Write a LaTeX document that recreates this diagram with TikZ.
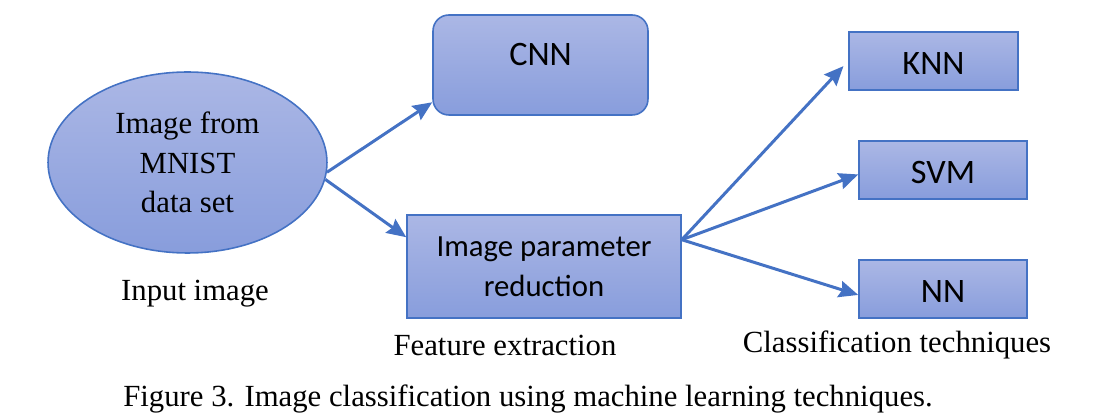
\documentclass[tikz,border=0pt]{standalone}
\usepackage{fontspec}
\setmainfont{Liberation Serif}
\newfontfamily\boxfont{Carlito}
\usepackage{tikz}
\usetikzlibrary{arrows.meta,positioning,shapes.geometric}

\definecolor{boxtop}{RGB}{171,183,229}
\definecolor{boxbot}{RGB}{136,157,220}
\definecolor{boxline}{RGB}{68,114,196}

\begin{document}
\begin{tikzpicture}[x=0.02cm, y=-0.02cm,
    every node/.style={font=\fontsize{17.5}{21}\selectfont},
    shadedbox/.style={draw=boxline, line width=0.9pt, top color=boxtop,
        bottom color=boxbot, inner sep=0pt},
    sansbox/.style={shadedbox, rectangle, align=center,
        font=\boxfont\fontsize{17.5}{23}\selectfont},
    bigsans/.style={font=\boxfont\fontsize{19.5}{23}\selectfont},
    flow/.style={draw=boxline, line width=1.7pt,
        -{Stealth[length=11pt, width=9.5pt, inset=1.5pt]}}]
  \useasboundingbox (0,0) rectangle (1105,418);
  % Input
  \node[shadedbox, ellipse, minimum width=5.58cm, minimum height=3.62cm,
        align=center, font=\fontsize{17.5}{22.5}\selectfont] (img)
    at (187.5,162.5) {Image from\\MNIST\\data set};
  \node (lblin) at (195,294) {Input image};
  % Feature extraction
  \node[sansbox, bigsans, rounded corners=9pt, minimum width=4.3cm,
        minimum height=2.0cm, text depth=0.44cm] (cnn)
    at (540.5,65) {CNN};
  \node[sansbox, minimum width=5.48cm, minimum height=2.06cm] (param)
    at (544,266.5) {Image parameter\\reduction};
  \node (lblfe) at (505,345) {Feature extraction};
  % Classifiers
  \node[sansbox, bigsans, minimum width=3.38cm, minimum height=1.16cm,
        text height=0.55cm] (knn) at (933.5,61) {KNN};
  \node[sansbox, bigsans, minimum width=3.36cm, minimum height=1.16cm,
        text height=0.55cm] (svm) at (943,170) {SVM};
  \node[sansbox, bigsans, minimum width=3.36cm, minimum height=1.16cm,
        text height=0.55cm] (nn) at (943,289) {NN};
  \node (lblct) at (897,345) {Classification techniques};
  % Caption
  \node (caption) at (528,399) {Figure 3. Image classification using machine learning techniques.};
  % Arrows
  \draw[flow] (img.-4) -- (cnn.199);
  \draw[flow] (img.-7) -- (param.168);
  \draw[flow, shorten >=4pt] (param.11) -- (knn.west);
  \draw[flow] (param.11) -- (svm.183);
  \draw[flow] (param.11) -- (nn.184);
\end{tikzpicture}
\end{document}
